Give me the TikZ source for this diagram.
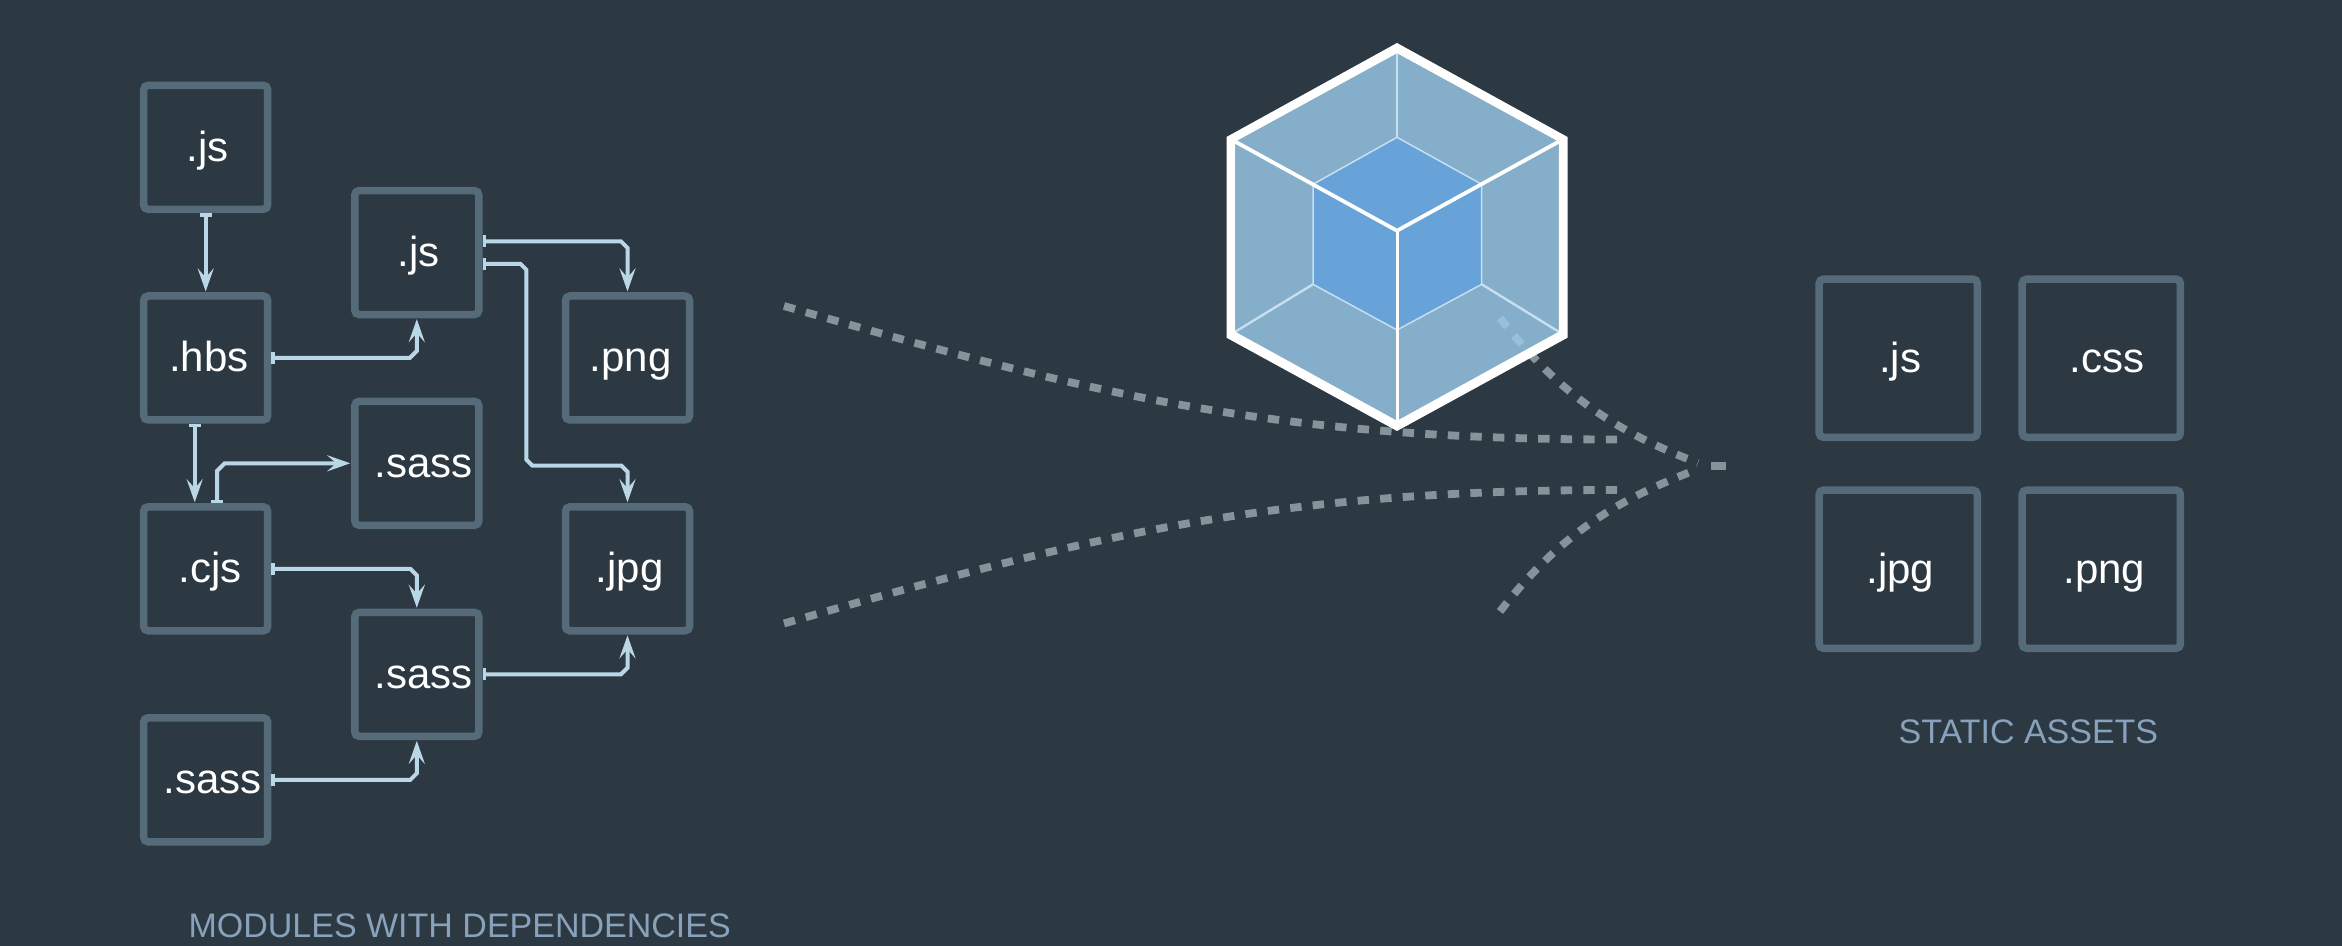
\documentclass[tikz,border=0pt]{standalone}
\usepackage{fontspec}
\setmainfont{Liberation Sans}
\usetikzlibrary{arrows.meta,calc}
\definecolor{bgc}{HTML}{2D3942}
\definecolor{boxc}{HTML}{566B7A}
\definecolor{linkc}{HTML}{BAD7E8}
\definecolor{capc}{HTML}{88A2BB}
\definecolor{dashc}{HTML}{87939B}
\definecolor{hexc}{HTML}{9ACCED}
\definecolor{cubec}{HTML}{67A3D8}
\definecolor{edgec}{HTML}{C6DFF1}
\newcommand{\off}[1]{\hspace*{#1pt}}
\tikzset{
  modbox/.style={draw=boxc,line width=3.75pt,rounded corners=2.2pt,minimum width=62pt,minimum height=62pt,
    inner sep=0pt,text=white,font=\fontsize{21}{24}\selectfont,text height=16pt,text depth=2pt},
  assetbox/.style={modbox,minimum width=79.1pt,minimum height=79.1pt},
  caption/.style={text=capc,font=\fontsize{17}{20}\selectfont,anchor=base west,inner sep=0pt},
  dep/.style={draw=linkc,line width=2pt,shorten >=0.4pt,
    {Rectangle[length=1.75pt,width=5.9pt]}-{Stealth[length=11.5pt,width=8pt,inset=4.5pt]}},
  flow/.style={draw=dashc,line width=3.9pt,dash pattern=on 5.7pt off 5.6pt},
  inneredge/.style={draw=edgec,line width=0.75pt,line join=miter},
}
\begin{document}
\begin{tikzpicture}[x=0.5pt,y=-0.5pt]
\useasboundingbox (0,0) rectangle (2342,946);
\fill[bgc] (0,0) rectangle (2342,946);

% module boxes
\node[modbox] (js1) at (205.7,147.3) {\off{2}.js};
\node[modbox] (js2) at (416.8,252.6) {\off{2}.js};
\node[modbox] (hbs) at (205.7,358) {\off{3.3}.hbs};
\node[modbox] (png) at (627.5,358) {\off{3}.png};
\node[modbox] (sassa) at (416.8,463.3) {\off{6.6}.sass};
\node[modbox] (cjs) at (205.7,568.8) {\off{4.7}.cjs};
\node[modbox] (jpg) at (627.5,568.8) {\off{2.2}.jpg};
\node[modbox] (sassb) at (416.8,674.3) {\off{6.8}.sass};
\node[modbox] (sassc) at (205.7,779.8) {\off{6.7}.sass};

% asset boxes
\node[assetbox] (ajs) at (1898.2,358.2) {\off{2}.js};
\node[assetbox] (acss) at (2101.3,358.2) {\off{6}.css};
\node[assetbox] (ajpg) at (1898.2,569.2) {\off{2}.jpg};
\node[assetbox] (apng) at (2101.3,569.2) {\off{3}.png};

\node[caption] (capm) at (188.2,937.3) {MODULES WITH DEPENDENCIES};
\node[caption] (capa) at (1898.3,743.3) {STATIC ASSETS};

% dependency arrows
\draw[dep] (js1.south) -- (hbs.north);

\coordinate (k2) at (js2.south |- hbs.east);
\draw[dep] (hbs.east) -- ($(k2)+(-7,0)$) -- ($(k2)+(0,-7)$) -- (js2.south);

\draw[dep] ([xshift=-5.5pt]hbs.south) -- ([xshift=-5.5pt]cjs.north);

\coordinate (s4) at ([xshift=5.75pt]cjs.north);
\coordinate (k4) at (s4 |- sassa.west);
\draw[dep] (s4) -- ($(k4)+(0,7.5)$) -- ($(k4)+(7.5,0)$) -- (sassa.west);

\coordinate (s5) at ([yshift=5.6pt]js2.east);
\coordinate (k5) at (png.north |- s5);
\draw[dep] (s5) -- ($(k5)+(-6.5,0)$) -- ($(k5)+(0,6.5)$) -- (png.north);

\coordinate (s6) at ([yshift=-5.6pt]js2.east);
\coordinate (m6) at (526.4,465.7);
\coordinate (k6a) at (m6 |- s6);
\coordinate (k6b) at (jpg.north |- m6);
\draw[dep] (s6) -- ($(k6a)+(-6,0)$) -- ($(k6a)+(0,6)$) -- ($(m6)+(0,-6)$) -- ($(m6)+(6,0)$)
  -- ($(k6b)+(-6,0)$) -- ($(k6b)+(0,6)$) -- (jpg.north);

\coordinate (k7) at (sassb.north |- cjs.east);
\draw[dep] (cjs.east) -- ($(k7)+(-6.5,0)$) -- ($(k7)+(0,6.5)$) -- (sassb.north);

\coordinate (k8) at (jpg.south |- sassb.east);
\draw[dep] (sassb.east) -- ($(k8)+(-6.5,0)$) -- ($(k8)+(0,-6.5)$) -- (jpg.south);

\coordinate (k9) at (sassb.south |- sassc.east);
\draw[dep] (sassc.east) -- ($(k9)+(-6.5,0)$) -- ($(k9)+(0,-6.5)$) -- (sassb.south);

% dashed flows
\draw[flow] (784,306) .. controls (1084,392) and (1267,439.5) .. (1617,439.5);
\draw[flow] (784,623.5) .. controls (1084,537.5) and (1267,490) .. (1617,490);
\draw[flow] (1500,318) .. controls (1567,405) and (1631,437) .. (1698,463);
\draw[flow] (1500,611.5) .. controls (1567,524.5) and (1631,495) .. (1698,469);
\draw[flow,solid] (1711,466) -- (1726,466);

% cube
\fill[hexc,fill opacity=0.8] (1397,53.3) -- (1558.7,141.7) -- (1558.7,331.7) -- (1397,420.7) -- (1235.3,331.7) -- (1235.3,141.7) -- cycle;
\fill[cubec] (1397,137.3) -- (1481.7,184.3) -- (1481.7,284.3) -- (1397,330) -- (1313,284.3) -- (1313,184.3) -- cycle;
\draw[inneredge] (1313,184.3) -- (1397,137.3) -- (1481.7,184.3) -- (1481.7,284.3) -- (1397,330) -- (1313,284.3) -- cycle;
\draw[draw=edgec,line width=1.4pt] (1397,53.3) -- (1397,137.3);
\draw[draw=edgec,line width=1.2pt] (1235.3,331.7) -- (1313,284.3);
\draw[draw=edgec,line width=1.2pt] (1558.7,331.7) -- (1481.7,284.3);
\draw[draw=white,line width=1.9pt,line join=miter] (1235.3,141.7) -- (1397,230.7) -- (1558.7,141.7);
\draw[draw=white,line width=1.5pt] (1397,230.7) -- (1397,420.7);
\fill[white,even odd rule] (1397,43) -- (1567.5,137) -- (1567.5,337.7) -- (1397,431) -- (1226.5,337.7) -- (1226.5,137) -- cycle
  (1397,53.3) -- (1558.7,141.7) -- (1558.7,331.7) -- (1397,420.7) -- (1235.3,331.7) -- (1235.3,141.7) -- cycle;
\end{tikzpicture}
\end{document}
